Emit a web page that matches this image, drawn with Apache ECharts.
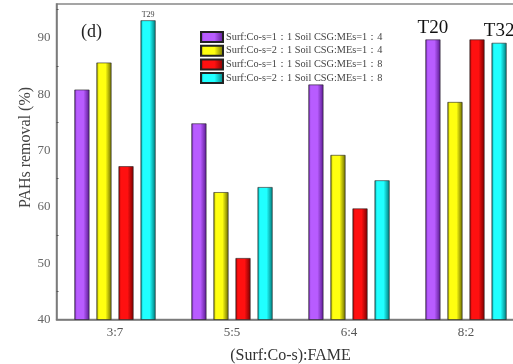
<!DOCTYPE html>
<html><head><meta charset="utf-8">
<script src="https://cdn.jsdelivr.net/npm/echarts@6/dist/echarts.min.js"></script>
<style>html,body{margin:0;padding:0;background:#fff}#c{width:513px;height:364px}</style>
</head><body><div id="c"></div>
<script>
const categories = ['3:7', '5:5', '6:4', '8:2'];
const seriesNames = [
  'Surf:Co-s=1：1 Soil CSG:MEs=1：4',
  'Surf:Co-s=2：1 Soil CSG:MEs=1：4',
  'Surf:Co-s=1：1 Soil CSG:MEs=1：8',
  'Surf:Co-s=2：1 Soil CSG:MEs=1：8'
];
const purpleVals = [80.8, 74.8, 81.7, 89.7];
const yellowVals = [85.6, 62.6, 69.2, 78.6];
const redVals = [67.2, 50.9, 59.7, 89.7];
const cyanVals = [93.1, 63.5, 64.7, 89.1];
const yTicks = [40, 50, 60, 70, 80, 90];

const colors = [
  ['#5a1a90', '#b85cff'],
  ['#6b6b00', '#ffff10'],
  ['#7a0000', '#ff1010'],
  ['#007a7a', '#20ffff']
];
function grad(c) {
  return new echarts.graphic.LinearGradient(0, 0, 1, 0, [
    {offset: 0, color: c[0]}, {offset: 0.15, color: c[1]},
    {offset: 0.6, color: c[1]}, {offset: 1, color: c[0]}
  ]);
}
const font = 'Liberation Serif';
const allVals = [purpleVals, yellowVals, redVals, cyanVals];
const labelsMap = {3: {0: 'T29', 3: 'T32'}, 0: {3: 'T20'}};
const series = allVals.map((vals, si) => ({
  name: seriesNames[si],
  type: 'bar',
  barWidth: 15,
  barGap: '47%',
  itemStyle: {color: grad(colors[si]), borderColor: '#222', borderWidth: 0.6},
  data: vals.map((v, i) => {
    const lab = labelsMap[si] && labelsMap[si][i];
    if (!lab) return v;
    const small = lab === 'T29';
    return {value: v, label: {show: true, position: 'top', formatter: lab,
      fontFamily: font, fontSize: small ? 8 : 19, color: small ? '#444' : '#111',
      distance: small ? 1 : 2}};
  })
}));

const chart = echarts.init(document.getElementById('c'));
chart.setOption({
  animation: false,
  grid: {left: 56.5, top: 4, width: 468, height: 315.5, outerBoundsMode: 'none', containLabel: false,
         show: true, borderColor: '#888', borderWidth: 1.5},
  legend: {
    orient: 'vertical', left: 195, top: 26, itemWidth: 22, itemHeight: 10, itemGap: 1.7,
    textStyle: {fontFamily: font, fontSize: 10.3, color: '#444', padding: [0, 0, 0, -2]},
    data: seriesNames.map(n => ({name: n, icon: 'rect'}))
  },
  graphic: [
    {type: 'text', left: 81, top: 23, style: {text: '(d)', font: '18px "Liberation Serif"', fill: '#222'}},
    {type: 'text', x: 25.5, y: 147.5, rotation: Math.PI / 2,
     style: {text: 'PAHs removal (%)', font: '16px "Liberation Serif"', fill: '#444', align: 'center', verticalAlign: 'middle'}}
  ],
  xAxis: {
    type: 'category', data: categories,
    name: '(Surf:Co-s):FAME', nameLocation: 'middle', nameGap: 28.5,
    nameTextStyle: {fontFamily: font, fontSize: 16, color: '#333'},
    axisLine: {lineStyle: {color: '#777', width: 1.5}},
    axisTick: {inside: true, length: 3, lineStyle: {color: '#555'}},
    axisLabel: {fontFamily: font, fontSize: 13, color: '#555', margin: 7}
  },
  yAxis: {
    type: 'value', min: 40, max: 96, interval: 10,
    axisLine: {show: true, lineStyle: {color: '#777', width: 1.5}},
    axisTick: {inside: true, length: 4, lineStyle: {color: '#555'}},
    minorTick: {show: true, splitNumber: 2, length: 2, lineStyle: {color: '#555'}},
    splitLine: {show: false},
    axisLabel: {fontFamily: font, fontSize: 13, color: '#666', margin: 6,
      formatter: v => yTicks.includes(v) ? String(v) : ''}
  },
  series: series
});
</script></body></html>
